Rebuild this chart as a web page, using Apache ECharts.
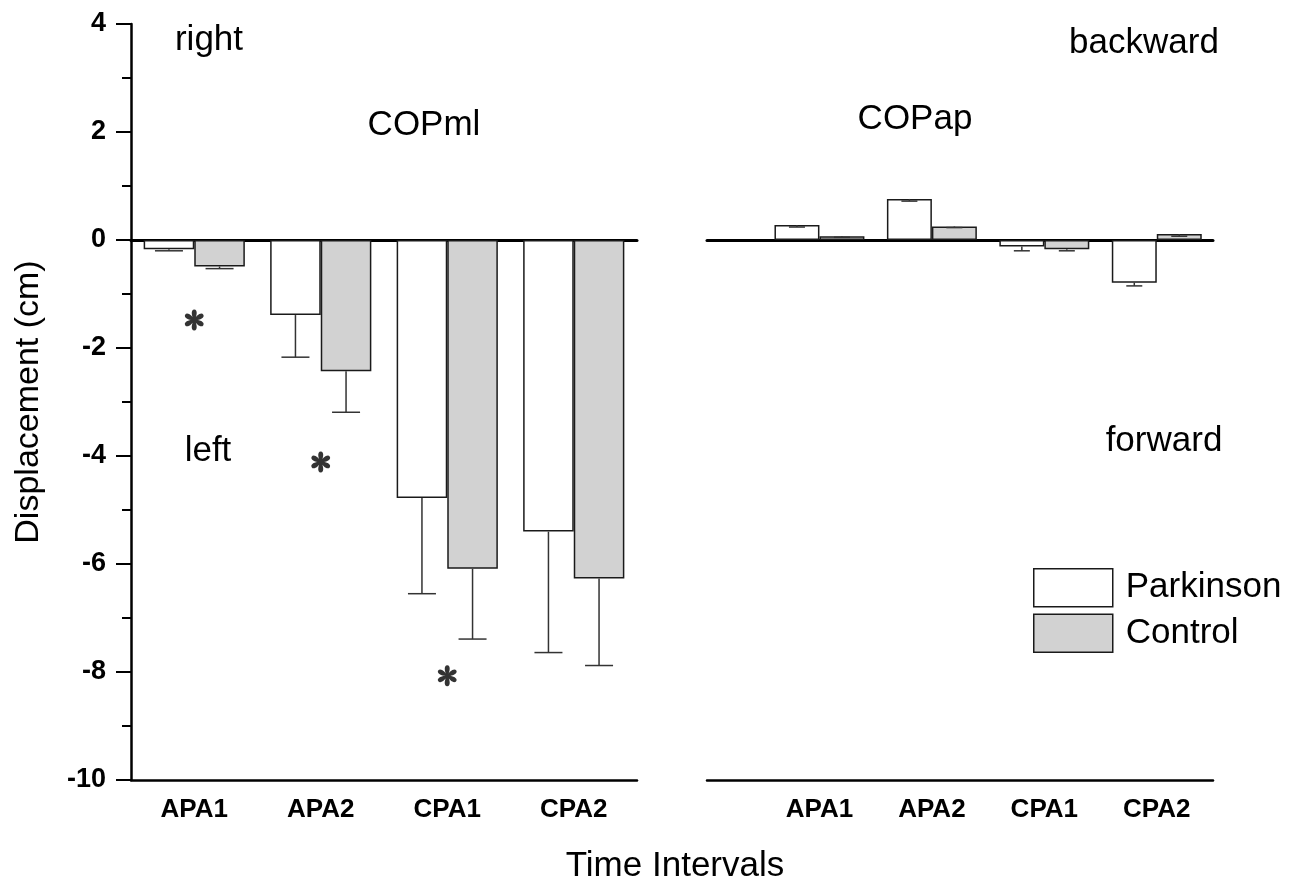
<!DOCTYPE html>
<html>
<head>
<meta charset="utf-8">
<script src="https://cdn.jsdelivr.net/npm/echarts@6/dist/echarts.min.js"></script>
<style>
  html, body { margin: 0; padding: 0; background: #fff; }
  #main { width: 1299px; height: 884px; }
</style>
</head>
<body>
<div id="main"></div>
<script>
var categories = ['APA1', 'APA2', 'CPA1', 'CPA2'];

// COPml (left panel)
var mlParkinson = [-0.17, -1.39, -4.78, -5.40];
var mlParkinsonErr = [0.03, 0.78, 1.77, 2.24];
var mlControl = [-0.49, -2.43, -6.09, -6.27];
var mlControlErr = [0.04, 0.76, 1.30, 1.61];

// COPap (right panel)
var apParkinson = [0.28, 0.76, -0.12, -0.79];
var apParkinsonErr = [0.04, 0.04, 0.08, 0.06];
var apControl = [0.07, 0.25, -0.17, 0.11];
var apControlErr = [0.02, 0.02, 0.03, 0.04];

// significance marks (COPml)
var starCats = ['APA1', 'APA2', 'CPA1'];
var starY = [-1.48, -4.11, -8.07];

var FONT = 'Liberation Sans';
var lineColor = '#000';
var barBorder = { borderColor: '#1a1a1a', borderWidth: 1.5 };

// six petal asterisk symbol (vertical + two diagonals)
function starPath() {
  var cx = 50, cy = 50, r = 46, p = [];
  var f = function (v) { return v.toFixed(1); };
  for (var k = 0; k < 6; k++) {
    var a = (90 + k * 60) * Math.PI / 180;
    var dx = Math.cos(a), dy = -Math.sin(a), nx = -dy, ny = dx;
    var tx = cx + dx * r, ty = cy + dy * r;
    p.push('M' + f(cx) + ' ' + f(cy) +
      'C' + f(cx + dx * 14 + nx * 12) + ' ' + f(cy + dy * 14 + ny * 12) + ' ' +
      f(tx + nx * 17) + ' ' + f(ty + ny * 17) + ' ' + f(tx) + ' ' + f(ty) +
      'C' + f(tx - nx * 17) + ' ' + f(ty - ny * 17) + ' ' +
      f(cx + dx * 14 - nx * 12) + ' ' + f(cy + dy * 14 - ny * 12) + ' ' + f(cx) + ' ' + f(cy) + 'Z');
  }
  return 'path://' + p.join('');
}

// error bar, always drawn downward (value - err)
function errBar(side, capW) {
  return function (params, api) {
    var x = api.value(0), v = api.value(1), e = api.value(2);
    var band = api.size([1, 0])[0];
    var p0 = api.coord([x, v]);
    var p1 = api.coord([x, v - e]);
    var cx = p0[0] + side * band * 0.2;
    var st = { stroke: '#333', lineWidth: 1.5 };
    return {
      type: 'group',
      children: [
        { type: 'line', shape: { x1: cx, y1: p0[1], x2: cx, y2: p1[1] }, style: st },
        { type: 'line', shape: { x1: cx - capW / 2, y1: p1[1], x2: cx + capW / 2, y2: p1[1] }, style: st }
      ]
    };
  };
}

var tickLabel = { fontFamily: FONT, fontWeight: 'bold', fontSize: 27, color: '#000' };
var catLabel = { fontFamily: FONT, fontWeight: 'bold', fontSize: 26, color: '#000' };

function txt(t, x, y) {
  return {
    type: 'text', x: x, y: y, silent: true,
    style: { text: t, fontFamily: FONT, fontSize: 35, fill: '#000', align: 'center', verticalAlign: 'middle' }
  };
}

var chart = echarts.init(document.getElementById('main'));
chart.setOption({
  animation: false,
  backgroundColor: '#fff',
  grid: [
    { left: 131, right: 662, top: 24, bottom: 104 },
    { left: 707, right: 86, top: 24, bottom: 104 }
  ],
  xAxis: [
    { // left bottom axis with labels
      gridIndex: 0, type: 'category', data: categories, position: 'bottom',
      axisLine: { onZero: false, lineStyle: { color: lineColor, width: 2.5 } },
      axisTick: { show: false },
      axisLabel: Object.assign({ margin: 17 }, catLabel),
      splitLine: { show: false }
    },
    { // left zero line
      gridIndex: 0, type: 'category', data: categories,
      axisLine: { onZero: true, lineStyle: { color: lineColor, width: 3 } },
      axisTick: { show: false }, axisLabel: { show: false }, splitLine: { show: false }
    },
    { // right bottom axis with labels
      gridIndex: 1, type: 'value', min: 0, max: 4.5, interval: 1, position: 'bottom',
      axisLine: { onZero: false, lineStyle: { color: lineColor, width: 2.5 } },
      axisTick: { show: false },
      axisLabel: Object.assign({
        margin: 17, showMinLabel: true, showMaxLabel: true,
        formatter: function (v) { return (v % 1 === 0 && categories[v - 1]) || ''; }
      }, catLabel),
      splitLine: { show: false }
    },
    { // right zero line
      gridIndex: 1, type: 'value', min: 0, max: 4.5, interval: 1,
      axisLine: { onZero: true, lineStyle: { color: lineColor, width: 3 } },
      axisTick: { show: false }, axisLabel: { show: false }, splitLine: { show: false }
    }
  ],
  yAxis: [
    {
      gridIndex: 0, type: 'value', min: -10, max: 4, interval: 2,
      name: 'Displacement (cm)', nameLocation: 'middle', nameGap: 85,
      nameTextStyle: { fontFamily: FONT, fontSize: 34, color: '#000' },
      axisLine: { show: true, onZero: false, lineStyle: { color: lineColor, width: 2.5 } },
      axisTick: { show: true, length: 15, lineStyle: { color: lineColor, width: 2 } },
      minorTick: { show: true, splitNumber: 2, length: 9, lineStyle: { color: lineColor, width: 2 } },
      axisLabel: Object.assign({ margin: 25 }, tickLabel),
      splitLine: { show: false }
    },
    {
      gridIndex: 1, type: 'value', min: -10, max: 4, interval: 2, show: false,
      axisLine: { onZero: false }, splitLine: { show: false }
    }
  ],
  legend: {
    data: ['Parkinson', 'Control'], orient: 'vertical', left: 1033, top: 568,
    itemWidth: 79, itemHeight: 38, itemGap: 6, icon: 'rect', padding: 0, selectedMode: false,
    itemStyle: barBorder,
    textStyle: { fontFamily: FONT, fontSize: 35, color: '#000', padding: [0, 0, 0, 8] }
  },
  series: [
    {
      name: 'Parkinson', type: 'bar', xAxisIndex: 0, yAxisIndex: 0,
      barWidth: '40%', barGap: '0%', data: mlParkinson,
      itemStyle: Object.assign({ color: '#fff' }, barBorder)
    },
    {
      name: 'Control', type: 'bar', xAxisIndex: 0, yAxisIndex: 0,
      barWidth: '40%', barGap: '0%', data: mlControl,
      itemStyle: Object.assign({ color: '#d2d2d2' }, barBorder)
    },
    {
      type: 'custom', xAxisIndex: 0, yAxisIndex: 0, z: 3, silent: true,
      renderItem: errBar(-1, 28),
      data: categories.map(function (c, i) { return [i, mlParkinson[i], mlParkinsonErr[i]]; })
    },
    {
      type: 'custom', xAxisIndex: 0, yAxisIndex: 0, z: 3, silent: true,
      renderItem: errBar(1, 28),
      data: categories.map(function (c, i) { return [i, mlControl[i], mlControlErr[i]]; })
    },
    {
      name: 'Parkinson', type: 'bar', xAxisIndex: 2, yAxisIndex: 1,
      barWidth: '40%', barGap: '0%',
      data: categories.map(function (c, i) { return [i + 1, apParkinson[i]]; }),
      itemStyle: Object.assign({ color: '#fff' }, barBorder)
    },
    {
      name: 'Control', type: 'bar', xAxisIndex: 2, yAxisIndex: 1,
      barWidth: '40%', barGap: '0%',
      data: categories.map(function (c, i) { return [i + 1, apControl[i]]; }),
      itemStyle: Object.assign({ color: '#d2d2d2' }, barBorder)
    },
    {
      type: 'custom', xAxisIndex: 2, yAxisIndex: 1, z: 3, silent: true,
      renderItem: errBar(-1, 16),
      data: categories.map(function (c, i) { return [i + 1, apParkinson[i], apParkinsonErr[i]]; })
    },
    {
      type: 'custom', xAxisIndex: 2, yAxisIndex: 1, z: 3, silent: true,
      renderItem: errBar(1, 16),
      data: categories.map(function (c, i) { return [i + 1, apControl[i], apControlErr[i]]; })
    },
    {
      type: 'scatter', xAxisIndex: 0, yAxisIndex: 0, z: 4, silent: true,
      data: starCats.map(function (c, i) { return [c, starY[i]]; }),
      symbol: starPath(), symbolSize: 21, symbolKeepAspect: true,
      itemStyle: { color: '#000' }
    }
  ],
  graphic: [
    txt('right', 209, 40),
    txt('COPml', 424, 125),
    txt('left', 208, 451),
    txt('backward', 1144, 43),
    txt('COPap', 915, 119),
    txt('forward', 1164, 441),
    txt('Time Intervals', 675, 866)
  ]
});
</script>
</body>
</html>
